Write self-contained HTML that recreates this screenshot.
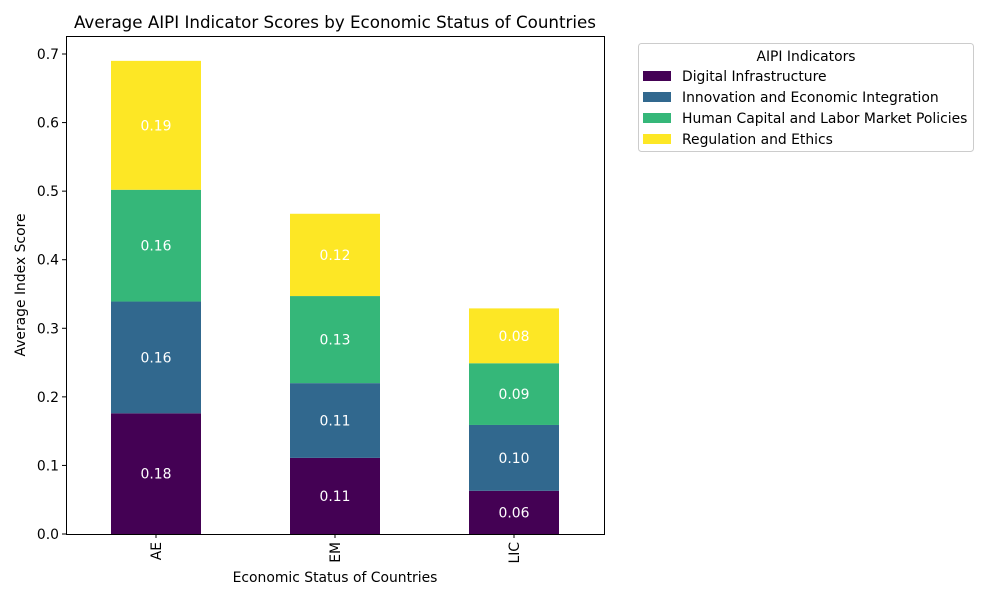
<!DOCTYPE html>
<html><head><meta charset="utf-8"><style>
body{margin:0;background:#fff;font-family:"Liberation Sans","DejaVu Sans",sans-serif;}
svg text{font-family:"DejaVu Sans","Liberation Sans",sans-serif;}
</style></head><body>
<svg id="chart" width="1000" height="600">
<rect width="1000" height="600" fill="#fff"/>
<text x="335" y="28" text-anchor="middle" font-size="16.7">Average AIPI Indicator Scores by Economic Status of Countries</text>
<g id="bars"></g>
<g id="axes"></g>
<text x="335" y="582" text-anchor="middle" font-size="13.9">Economic Status of Countries</text>
<text transform="translate(25,285) rotate(-90)" text-anchor="middle" font-size="13.9">Average Index Score</text>
<g id="legend">
<rect x="638.5" y="43.5" width="335" height="108" rx="3" fill="#fff" stroke="#ccc"/>
<text x="806" y="61" text-anchor="middle" font-size="13.9">AIPI Indicators</text>
</g>
</svg>
<script>
const categories=["AE","EM","LIC"];
const seriesNames=["Digital Infrastructure","Innovation and Economic Integration","Human Capital and Labor Market Policies","Regulation and Ethics"];
const digital=[0.176,0.111,0.063];
const innovation=[0.163,0.109,0.096];
const humanCapital=[0.163,0.127,0.090];
const regulation=[0.188,0.120,0.080];
const yTicks=[0,0.1,0.2,0.3,0.4,0.5,0.6,0.7];
const colors=["#440154","#31688e","#35b779","#fde725"];
const series=[digital,innovation,humanCapital,regulation];
const NS="http://www.w3.org/2000/svg";
const L=66,R=604,T=36,B=534;
const y=v=>B-v*(480/0.7);
const xc=i=>156+i*179;
const bw=90;
function mk(tag,attrs,parent){const e=document.createElementNS(NS,tag);for(const k in attrs)e.setAttribute(k,attrs[k]);parent.appendChild(e);return e;}
const bars=document.getElementById('bars'),axes=document.getElementById('axes'),leg=document.getElementById('legend');
categories.forEach((c,i)=>{let base=0;
 series.forEach((s,j)=>{const v=s[i];
  const r=mk('rect',{x:xc(i)-bw/2,y:y(base+v),width:bw,height:y(base)-y(base+v),fill:colors[j]},bars);
  
  
  const t=mk('text',{x:xc(i),y:y(base+v/2)+5,'text-anchor':'middle','font-size':13.9,fill:'#fff'},bars);
  t.textContent=v.toFixed(2);
  
  
  base+=v;});
 mk('line',{x1:xc(i),x2:xc(i),y1:B,y2:B+4,stroke:'#000'},axes);
 const t=mk('text',{transform:`translate(${xc(i)+5},${B+8}) rotate(-90)`,'text-anchor':'end','font-size':13.9},axes);
 t.textContent=c;
 
 
});
yTicks.forEach(v=>{mk('line',{x1:L-4,x2:L,y1:y(v),y2:y(v),stroke:'#000'},axes);
 const t=mk('text',{x:L-7,y:y(v)+5,'text-anchor':'end','font-size':13.9},axes);
 t.textContent=v.toFixed(1);
 
 });
const fr=mk('rect',{x:L+.5,y:T+.5,width:R-L,height:B-T,fill:'none',stroke:'#000'},axes);


seriesNames.forEach((n,j)=>{const yy=76+j*21;
 const p=mk('rect',{x:643,y:yy-5,width:28,height:10,fill:colors[j]},leg);
 
 
 const t=mk('text',{x:682,y:yy+5,'font-size':13.9},leg);t.textContent=n;
 
 });
</script>
</body></html>
